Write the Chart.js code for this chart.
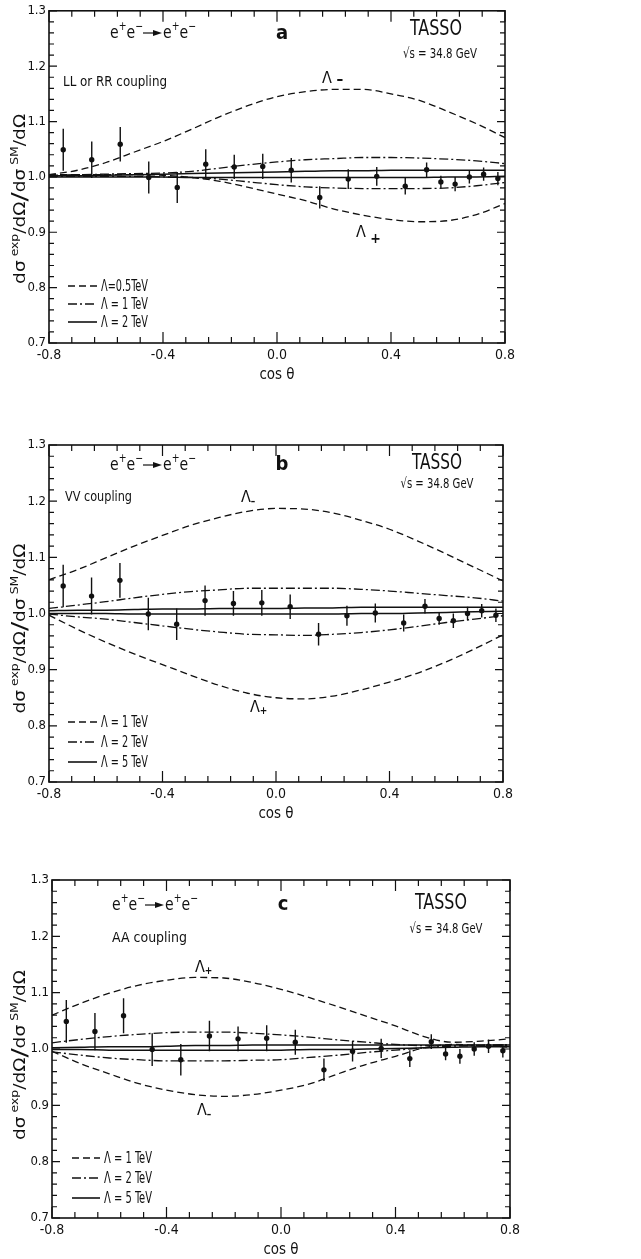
<!DOCTYPE html>
<html>
<head>
<meta charset="utf-8">
<script src="https://cdn.jsdelivr.net/npm/chart.js@4.4.1/dist/chart.umd.min.js"></script>
<style>
  html, body { margin: 0; padding: 0; background: #fff; }
  body { width: 641px; height: 1259px; position: relative; overflow: hidden; }
  .panel { position: absolute; left: 0; width: 641px; }
  canvas { display: block; }
</style>
</head>
<body>
<div class="panel" style="top:0px;height:400px"><canvas id="panelA" width="641" height="400"></canvas></div>
<div class="panel" style="top:420px;height:400px"><canvas id="panelB" width="641" height="400"></canvas></div>
<div class="panel" style="top:860px;height:399px"><canvas id="panelC" width="641" height="399"></canvas></div>
<script>
// ---- measured ratio dσ(exp)/dσ(SM), e+e- -> e+e- at √s = 34.8 GeV ----
const cosTheta = [-0.75, -0.65, -0.55, -0.45, -0.35, -0.25, -0.15, -0.05, 0.05, 0.15, 0.25, 0.35, 0.45,
                  0.525, 0.575, 0.625, 0.675, 0.725, 0.775];
const ratio    = [1.049, 1.031, 1.059, 0.999, 0.981, 1.023, 1.018, 1.019, 1.012, 0.963, 0.996, 1.001, 0.983,
                  1.013, 0.991, 0.987, 1.000, 1.005, 0.997];
const ratioErr = [0.038, 0.033, 0.031, 0.029, 0.028, 0.027, 0.022, 0.023, 0.022, 0.020, 0.018, 0.017, 0.015,
                  0.013, 0.011, 0.013, 0.012, 0.012, 0.012];

// ---- contact-interaction predictions, sampled every 0.1 in cos θ ----
const curveX = [-0.8, -0.7, -0.6, -0.5, -0.4, -0.3, -0.2, -0.1, 0.0, 0.1, 0.2, 0.3, 0.4, 0.5, 0.6, 0.7, 0.8];

// (a) LL or RR coupling, Λ = 0.5, 1, 2 TeV
const llMinus05 = [1.004, 1.012, 1.026, 1.045, 1.064, 1.086, 1.109, 1.129, 1.145, 1.154, 1.158, 1.158, 1.150, 1.138, 1.118, 1.096, 1.071];
const llPlus05  = [1.004, 1.004, 1.004, 1.004, 1.003, 0.999, 0.992, 0.981, 0.969, 0.957, 0.942, 0.931, 0.923, 0.919, 0.921, 0.932, 0.952];
const llMinus1  = [1.003, 1.004, 1.005, 1.006, 1.007, 1.010, 1.016, 1.022, 1.027, 1.031, 1.033, 1.035, 1.035, 1.034, 1.032, 1.029, 1.024];
const llPlus1   = [1.001, 1.001, 1.001, 1.001, 1.000, 0.999, 0.996, 0.991, 0.986, 0.982, 0.980, 0.979, 0.979, 0.979, 0.980, 0.984, 0.990];
const llMinus2  = [1.002, 1.002, 1.003, 1.004, 1.005, 1.006, 1.007, 1.008, 1.009, 1.010, 1.011, 1.011, 1.012, 1.012, 1.012, 1.012, 1.012];
const llPlus2   = [1.000, 1.000, 1.000, 1.000, 1.000, 0.999, 0.999, 0.999, 0.999, 0.999, 0.999, 0.999, 0.999, 0.999, 1.000, 1.000, 1.001];

// (b) VV coupling, Λ = 1, 2, 5 TeV
const vvMinus1 = [1.060, 1.078, 1.099, 1.120, 1.139, 1.157, 1.171, 1.182, 1.187, 1.186, 1.179, 1.166, 1.150, 1.129, 1.106, 1.082, 1.058];
const vvPlus1  = [0.997, 0.972, 0.949, 0.928, 0.909, 0.890, 0.872, 0.858, 0.850, 0.848, 0.853, 0.864, 0.878, 0.894, 0.914, 0.937, 0.962];
const vvMinus2 = [1.009, 1.015, 1.021, 1.028, 1.034, 1.039, 1.042, 1.045, 1.045, 1.045, 1.045, 1.043, 1.040, 1.036, 1.032, 1.028, 1.022];
const vvPlus2  = [0.999, 0.994, 0.990, 0.984, 0.978, 0.972, 0.967, 0.963, 0.962, 0.961, 0.963, 0.966, 0.971, 0.977, 0.984, 0.990, 0.996];
const vvMinus5 = [1.005, 1.006, 1.006, 1.007, 1.008, 1.008, 1.009, 1.009, 1.009, 1.010, 1.010, 1.011, 1.011, 1.011, 1.011, 1.011, 1.011];
const vvPlus5  = [1.000, 1.000, 1.000, 0.999, 0.999, 0.999, 0.999, 0.999, 0.999, 0.999, 0.999, 1.000, 1.000, 1.001, 1.002, 1.003, 1.004];

// (c) AA coupling, Λ = 1, 2, 5 TeV
const aaPlus1  = [1.060, 1.081, 1.099, 1.113, 1.122, 1.127, 1.126, 1.118, 1.106, 1.091, 1.075, 1.058, 1.041, 1.022, 1.012, 1.014, 1.018];
const aaMinus1 = [0.996, 0.974, 0.956, 0.939, 0.927, 0.919, 0.916, 0.919, 0.927, 0.938, 0.956, 0.973, 0.987, 1.002, 1.008, 1.006, 1.003];
const aaPlus2  = [1.011, 1.017, 1.022, 1.026, 1.029, 1.030, 1.030, 1.028, 1.025, 1.021, 1.016, 1.012, 1.008, 1.006, 1.006, 1.007, 1.008];
const aaMinus2 = [0.995, 0.989, 0.984, 0.981, 0.979, 0.979, 0.979, 0.980, 0.981, 0.985, 0.989, 0.994, 0.998, 1.002, 1.005, 1.006, 1.006];
const aaPlus5  = [1.002, 1.003, 1.004, 1.004, 1.005, 1.006, 1.006, 1.007, 1.007, 1.007, 1.007, 1.007, 1.007, 1.007, 1.007, 1.007, 1.007];
const aaMinus5 = [0.999, 0.999, 0.998, 0.998, 0.998, 0.998, 0.998, 0.998, 0.998, 0.999, 0.999, 1.000, 1.001, 1.002, 1.003, 1.004, 1.004];

// ---- axis ticks ----
const xMajorTicks = [-0.8, -0.4, 0.0, 0.4, 0.8];
const xTickLabels = ['-0.8', '-0.4', '0.0', '0.4', '0.8'];
const yMajorTicks = [0.7, 0.8, 0.9, 1.0, 1.1, 1.2, 1.3];
const yTickLabels = ['0.7', '0.8', '0.9', '1.0', '1.1', '1.2', '1.3'];

// ---- drawing ----
const FAM = "'Liberation Sans Narrow', 'DejaVu Sans Condensed', 'Liberation Sans', sans-serif";
const DASH = [7, 4];
const DASHDOT = [9, 3, 2, 3];
const INK = '#111';

function styleDash(kind) {
  return kind === 'dash' ? DASH : kind === 'dashdot' ? DASHDOT : [];
}

// draws a run of text pieces [text, size, dy, weight]; optional fitW squeezes it to that width
function richText(ctx, parts, x, y, align, fitW) {
  let total = 0;
  const widths = parts.map(p => {
    ctx.font = `${p[3] || 'normal'} ${p[1]}px ${FAM}`;
    const w = ctx.measureText(p[0]).width;
    total += w;
    return w;
  });
  const k = fitW ? fitW / total : 1;
  const drawnW = total * k;
  const startX = align === 'center' ? x - drawnW / 2 : align === 'right' ? x - drawnW : x;
  ctx.save();
  ctx.translate(startX, y);
  ctx.scale(k, 1);
  let cx = 0;
  parts.forEach((p, i) => {
    ctx.font = `${p[3] || 'normal'} ${p[1]}px ${FAM}`;
    ctx.fillText(p[0], cx, p[2] || 0);
    cx += widths[i];
  });
  ctx.restore();
  return startX + drawnW;
}

function drawReaction(ctx, x, y) {
  const e = [['e', 18, 0], ['+', 12, -8], ['e', 18, 0], ['−', 12, -8]];
  const cx = richText(ctx, e, x, y, 'left', 33);
  const ay = y - 5;
  ctx.save();
  ctx.lineWidth = 1.2;
  ctx.beginPath(); ctx.moveTo(cx, ay); ctx.lineTo(cx + 14, ay); ctx.stroke();
  ctx.beginPath(); ctx.moveTo(cx + 10, ay - 3); ctx.lineTo(cx + 19, ay); ctx.lineTo(cx + 10, ay + 3); ctx.closePath(); ctx.fill();
  ctx.restore();
  richText(ctx, e, cx + 20, y, 'left', 33);
}

const framePlugin = {
  id: 'frame',
  afterDraw(chart, args, opts) {
    const { ctx, chartArea: a, scales: { x, y } } = chart;
    ctx.save();
    ctx.strokeStyle = INK;
    ctx.fillStyle = INK;
    ctx.setLineDash([]);
    // frame
    ctx.lineWidth = 1.6;
    ctx.strokeRect(a.left, a.top, a.right - a.left, a.bottom - a.top);
    // inward ticks on all four sides
    ctx.lineWidth = 1.2;
    ctx.beginPath();
    for (let k = 0; k <= 30; k++) {
      const py = y.getPixelForValue(0.7 + k * 0.02);
      const len = k % 5 === 0 ? 8 : 5;
      ctx.moveTo(a.left, py); ctx.lineTo(a.left + len, py);
      ctx.moveTo(a.right, py); ctx.lineTo(a.right - len, py);
    }
    for (let k = 0; k <= 20; k++) {
      const px = x.getPixelForValue(-0.8 + k * 0.08);
      const len = k % 5 === 0 ? 11 : 6;
      ctx.moveTo(px, a.bottom); ctx.lineTo(px, a.bottom - len);
      ctx.moveTo(px, a.top); ctx.lineTo(px, a.top + len);
    }
    ctx.stroke();

    // axis titles
    ctx.textBaseline = 'alphabetic';
    richText(ctx, [['cos θ', 15, 0]], (a.left + a.right) / 2, opts.xTitleY, 'center');
    ctx.save();
    ctx.translate(25, (a.top + a.bottom) / 2 + opts.yTitleShift);
    ctx.rotate(-Math.PI / 2);
    richText(ctx, [['dσ', 15, 0], [' exp', 10, -7], ['/dΩ', 15, 0], ['/', 22, 2], ['dσ', 15, 0], [' SM', 10, -7], ['/dΩ', 15, 0]], 0, 0, 'center', 170);
    ctx.restore();

    // headings
    drawReaction(ctx, opts.reaction[0], opts.reaction[1]);
    richText(ctx, [[opts.letter[0], 20, 0, 'bold']], opts.letter[1], opts.letter[2], 'center');
    richText(ctx, [['TASSO', 21, 0]], opts.tasso[0], opts.tasso[1], 'center', opts.tasso[2]);
    richText(ctx, [['√s = 34.8 GeV', 14, 0]], opts.energy[0], opts.energy[1], 'center', opts.energy[2]);
    richText(ctx, [[opts.coupling[0], 14, 0]], opts.coupling[1], opts.coupling[2], 'left', opts.coupling[3]);

    // curve labels
    opts.lambdaLabels.forEach(l => {
      richText(ctx, [['Λ', 16, 0], [l.sign, l.signSize, l.signDy, 'bold']], l.x, l.y, 'left');
    });

    // legend
    opts.legend.forEach(r => {
      ctx.lineWidth = r.kind === 'solid' ? 1.6 : 1.3;
      ctx.setLineDash(styleDash(r.kind));
      ctx.beginPath();
      ctx.moveTo(opts.legendX[0], r.y); ctx.lineTo(opts.legendX[1], r.y);
      ctx.stroke();
      ctx.setLineDash([]);
      richText(ctx, [[r.text, 15, 0]], opts.legendX[2], r.y + 5, 'left', opts.legendX[3]);
    });
    ctx.restore();
  }
};

const errorBarPlugin = {
  id: 'errorBars',
  afterDatasetsDraw(chart) {
    const { ctx, scales: { x, y } } = chart;
    ctx.save();
    ctx.strokeStyle = INK;
    ctx.lineWidth = 1.4;
    ctx.setLineDash([]);
    ctx.beginPath();
    cosTheta.forEach((c, i) => {
      const px = x.getPixelForValue(c);
      ctx.moveTo(px, y.getPixelForValue(ratio[i] + ratioErr[i]));
      ctx.lineTo(px, y.getPixelForValue(ratio[i] - ratioErr[i]));
    });
    ctx.stroke();
    ctx.restore();
  }
};

function makePanel(id, height, area, curves, notes) {
  const datasets = curves.map(c => ({
    type: 'line',
    data: curveX.map((cx, i) => ({ x: cx, y: c.values[i] })),
    borderColor: INK,
    borderWidth: c.kind === 'solid' ? 1.5 : 1.3,
    borderDash: styleDash(c.kind),
    pointRadius: 0,
    fill: false,
    cubicInterpolationMode: 'monotone'
  }));
  datasets.push({
    type: 'scatter',
    data: cosTheta.map((c, i) => ({ x: c, y: ratio[i] })),
    pointRadius: 2.7,
    pointBackgroundColor: INK,
    pointBorderWidth: 0,
    showLine: false
  });

  new Chart(document.getElementById(id), {
    type: 'line',
    data: { datasets },
    plugins: [errorBarPlugin, framePlugin],
    options: {
      responsive: false,
      animation: false,
      events: [],
      layout: { padding: { top: area.top, right: 641 - area.right, left: 0, bottom: 0 } },
      plugins: {
        legend: { display: false },
        tooltip: { enabled: false },
        frame: notes
      },
      scales: {
        x: {
          type: 'linear', min: -0.8, max: 0.8,
          grid: { display: false, drawTicks: false },
          border: { display: false },
          afterBuildTicks: s => { s.ticks = xMajorTicks.map(v => ({ value: v })); },
          afterFit: s => { s.height = height - area.bottom; },
          ticks: {
            color: INK, padding: 4, maxRotation: 0, autoSkip: false,
            font: { family: FAM, size: 14 },
            callback: v => xTickLabels[xMajorTicks.findIndex(t => Math.abs(t - v) < 1e-6)]
          }
        },
        y: {
          type: 'linear', min: 0.7, max: 1.3,
          grid: { display: false, drawTicks: false },
          border: { display: false },
          afterBuildTicks: s => { s.ticks = yMajorTicks.map(v => ({ value: v })); },
          afterFit: s => { s.width = area.left; },
          ticks: {
            color: INK, padding: 3,
            font: { family: FAM, size: 13 },
            callback: v => yTickLabels[yMajorTicks.findIndex(t => Math.abs(t - v) < 1e-6)]
          }
        }
      }
    }
  });
}

makePanel('panelA', 400, { left: 49, right: 505, top: 7, bottom: 343 }, [
  { values: llMinus05, kind: 'dash' }, { values: llPlus05, kind: 'dash' },
  { values: llMinus1, kind: 'dashdot' }, { values: llPlus1, kind: 'dashdot' },
  { values: llMinus2, kind: 'solid' }, { values: llPlus2, kind: 'solid' }
], {
  xTitleY: 379, yTitleShift: 22,
  reaction: [110, 38], letter: ['a', 282, 39], tasso: [436, 35, 52], energy: [440, 58, 74],
  coupling: ['LL or RR coupling', 63, 86, 104],
  lambdaLabels: [
    { x: 322, y: 83, sign: ' –', signSize: 15, signDy: 1 },
    { x: 356, y: 237, sign: ' +', signSize: 14, signDy: 6 }
  ],
  legendX: [68, 97, 101, 47],
  legend: [
    { y: 286, kind: 'dash', text: 'Λ=0.5TeV' },
    { y: 304, kind: 'dashdot', text: 'Λ = 1 TeV' },
    { y: 322, kind: 'solid', text: 'Λ = 2 TeV' }
  ]
});

makePanel('panelB', 400, { left: 49, right: 503, top: 25, bottom: 362 }, [
  { values: vvMinus1, kind: 'dash' }, { values: vvPlus1, kind: 'dash' },
  { values: vvMinus2, kind: 'dashdot' }, { values: vvPlus2, kind: 'dashdot' },
  { values: vvMinus5, kind: 'solid' }, { values: vvPlus5, kind: 'solid' }
], {
  xTitleY: 398, yTitleShift: 15,
  reaction: [110, 50], letter: ['b', 282, 50], tasso: [437, 49, 50], energy: [437, 68, 73],
  coupling: ['VV coupling', 65, 81, 67],
  lambdaLabels: [
    { x: 241, y: 82, sign: '–', signSize: 10, signDy: 3 },
    { x: 250, y: 292, sign: '+', signSize: 10, signDy: 2 }
  ],
  legendX: [68, 97, 101, 47],
  legend: [
    { y: 302, kind: 'dash', text: 'Λ = 1 TeV' },
    { y: 322, kind: 'dashdot', text: 'Λ = 2 TeV' },
    { y: 342, kind: 'solid', text: 'Λ = 5 TeV' }
  ]
});

makePanel('panelC', 399, { left: 52, right: 510, top: 20, bottom: 358 }, [
  { values: aaPlus1, kind: 'dash' }, { values: aaMinus1, kind: 'dash' },
  { values: aaPlus2, kind: 'dashdot' }, { values: aaMinus2, kind: 'dashdot' },
  { values: aaPlus5, kind: 'solid' }, { values: aaMinus5, kind: 'solid' }
], {
  xTitleY: 394, yTitleShift: 6,
  reaction: [112, 50], letter: ['c', 283, 50], tasso: [441, 49, 52], energy: [446, 73, 73],
  coupling: ['AA coupling', 112, 82, 75],
  lambdaLabels: [
    { x: 195, y: 112, sign: '+', signSize: 10, signDy: 2 },
    { x: 197, y: 255, sign: '–', signSize: 10, signDy: 3 }
  ],
  legendX: [72, 100, 104, 48],
  legend: [
    { y: 298, kind: 'dash', text: 'Λ = 1 TeV' },
    { y: 318, kind: 'dashdot', text: 'Λ = 2 TeV' },
    { y: 338, kind: 'solid', text: 'Λ = 5 TeV' }
  ]
});
</script>
</body>
</html>
